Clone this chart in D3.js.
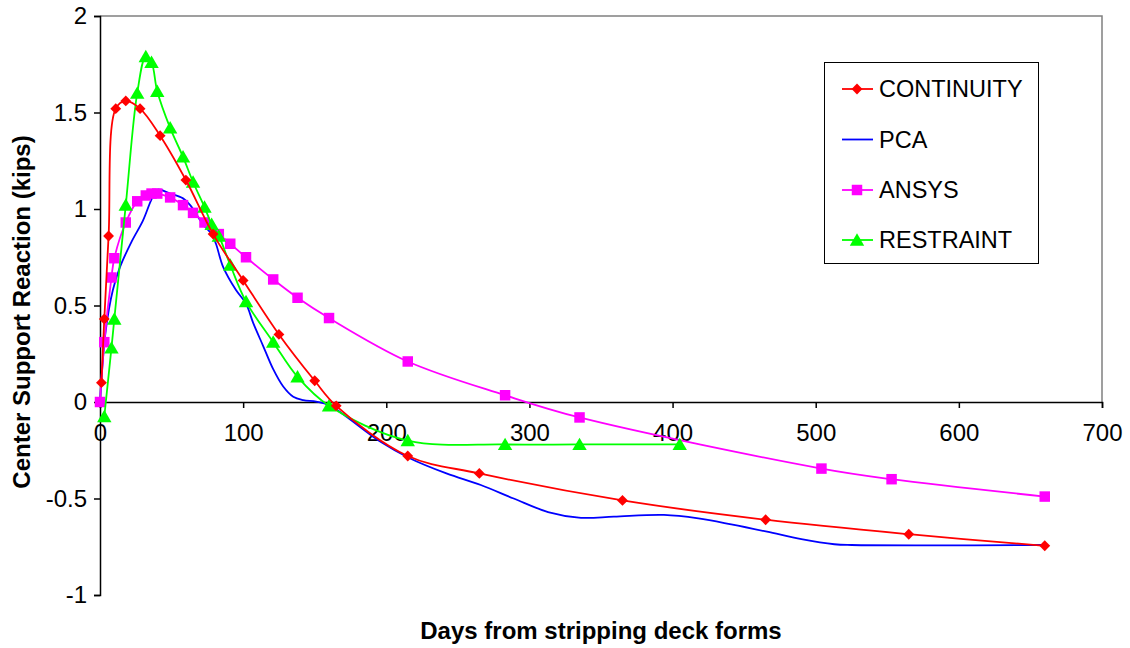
<!DOCTYPE html>
<html>
<head>
<meta charset="utf-8">
<script src="https://cdn.jsdelivr.net/npm/d3@7"></script>
<style>
  body { margin: 0; background: #fff; }
  text { font-family: "Liberation Sans", Arial, sans-serif; }
</style>
</head>
<body>
<div id="chart"></div>
<script>
var xTicks = [0, 100, 200, 300, 400, 500, 600, 700];
var yTicks = [-1, -0.5, 0, 0.5, 1, 1.5, 2];

var contDays = [1, 3, 6, 11, 18, 28, 42, 60, 79, 100, 125, 150, 165, 215, 265, 365, 465, 565, 660];
var contVals = [0.10, 0.43, 0.86, 1.52, 1.56, 1.52, 1.38, 1.15, 0.87, 0.63, 0.35, 0.11, -0.02, -0.28, -0.37, -0.51, -0.61, -0.685, -0.745];

var pcaDays = [0, 4, 9, 14, 22, 30, 36, 40, 49, 58, 63, 72, 78, 81, 86, 95, 102, 107, 114, 121, 128, 135, 142, 151, 160, 196, 216, 242, 266, 289, 313, 336, 359, 394, 418, 441, 466, 490, 513, 525, 661];
var pcaVals = [0, 0.37, 0.58, 0.70, 0.83, 0.94, 1.05, 1.10, 1.08, 1.055, 1.02, 0.92, 0.87, 0.82, 0.70, 0.58, 0.51, 0.41, 0.29, 0.17, 0.08, 0.027, 0.01, 0.002, -0.016, -0.206, -0.29, -0.37, -0.43, -0.50, -0.57, -0.60, -0.594, -0.585, -0.603, -0.634, -0.672, -0.711, -0.737, -0.741, -0.741];

var ansysDays = [0, 3, 8, 10, 18, 26, 32, 36, 40, 49, 58, 65, 73, 83, 91, 102, 121, 138, 160, 215, 283, 335, 504, 553, 660];
var ansysVals = [0, 0.31, 0.645, 0.745, 0.93, 1.04, 1.07, 1.08, 1.08, 1.06, 1.02, 0.98, 0.93, 0.87, 0.82, 0.75, 0.635, 0.54, 0.435, 0.21, 0.035, -0.08, -0.345, -0.40, -0.49];

var restDays = [3, 8, 10, 18, 26, 32, 36, 40, 49, 58, 65, 73, 78, 83, 91, 102, 121, 138, 160, 215, 283, 335, 405];
var restVals = [-0.075, 0.28, 0.43, 1.02, 1.60, 1.79, 1.76, 1.61, 1.42, 1.27, 1.14, 1.01, 0.92, 0.86, 0.71, 0.52, 0.31, 0.13, -0.02, -0.20, -0.22, -0.22, -0.22];

var seriesNames = ["CONTINUITY", "PCA", "ANSYS", "RESTRAINT"];
var seriesColors = ["#ff0000", "#0000ff", "#ff00ff", "#00ff00"];
var seriesMarkers = ["diamond", "none", "square", "triangle"];

var width = 1130, height = 648;
var plotLeft = 100, plotRight = 1102, plotTop = 16, plotBottom = 595;

var svg = d3.select("#chart").append("svg")
    .attr("width", width)
    .attr("height", height);

var x = d3.scaleLinear().domain([0, 700]).range([plotLeft, plotRight]);
var y = d3.scaleLinear().domain([-1, 2]).range([plotBottom, plotTop]);

// plain hyphen minus like the excel original
function fmt(d) { return String(d); }

// plot area border (top + right), gray like excel
svg.append("path")
    .attr("d", "M" + plotLeft + "," + plotTop + "H" + plotRight + "V" + y(0))
    .attr("fill", "none")
    .attr("stroke", "#808080")
    .attr("stroke-width", 1.5);

// y axis
var yAxis = svg.append("g")
    .attr("transform", "translate(" + plotLeft + ",0)")
    .call(d3.axisLeft(y).tickValues(yTicks).tickSize(6).tickPadding(7).tickFormat(fmt));
yAxis.select(".domain").attr("stroke", "#000").attr("stroke-width", 1.5);
yAxis.selectAll(".tick line").attr("stroke", "#000").attr("stroke-width", 1.5);
yAxis.selectAll("text").attr("font-size", 24).attr("fill", "#000")
    .attr("font-family", "Liberation Sans, Arial, sans-serif");

// x axis at y = 0
var xAxis = svg.append("g")
    .attr("transform", "translate(0," + y(0) + ")")
    .call(d3.axisBottom(x).tickValues(xTicks).tickSize(6).tickPadding(16).tickFormat(fmt));
xAxis.select(".domain").attr("stroke", "#000").attr("stroke-width", 1.5);
xAxis.selectAll(".tick line").attr("stroke", "#000").attr("stroke-width", 1.5);
xAxis.selectAll("text").attr("font-size", 24).attr("fill", "#000")
    .attr("font-family", "Liberation Sans, Arial, sans-serif");

// axis titles
svg.append("text")
    .attr("x", 601).attr("y", 639)
    .attr("text-anchor", "middle")
    .attr("font-size", 24).attr("font-weight", "bold")
    .text("Days from stripping deck forms");

svg.append("text")
    .attr("transform", "translate(30,312) rotate(-90)")
    .attr("text-anchor", "middle")
    .attr("font-size", 24).attr("font-weight", "bold")
    .text("Center Support Reaction (kips)");

function pairs(days, vals) {
    return days.map(function(d, i) { return [d, vals[i]]; });
}

var allSeries = [
    pairs(contDays, contVals),
    pairs(pcaDays, pcaVals),
    pairs(ansysDays, ansysVals),
    pairs(restDays, restVals)
];

var line = d3.line()
    .x(function(d) { return x(d[0]); })
    .y(function(d) { return y(d[1]); })
    .curve(d3.curveCatmullRom.alpha(0.5));

function markerPath(type) {
    if (type == "diamond") return d3.symbol().type(d3.symbolDiamond2).size(75)();
    if (type == "square") return d3.symbol().type(d3.symbolSquare).size(110)();
    if (type == "triangle") return d3.symbol().type(d3.symbolTriangle).size(90)();
    return null;
}

// draw order: PCA, ANSYS, RESTRAINT, CONTINUITY
[1, 2, 3, 0].forEach(function(i) {
    var g = svg.append("g");
    g.append("path")
        .datum(allSeries[i])
        .attr("d", line)
        .attr("fill", "none")
        .attr("stroke", seriesColors[i])
        .attr("stroke-width", 1.8);
    if (seriesMarkers[i] != "none") {
        var mp = markerPath(seriesMarkers[i]);
        g.selectAll(".m")
            .data(allSeries[i])
            .enter().append("path")
            .attr("class", "m")
            .attr("d", mp)
            .attr("transform", function(d) {
                var yy = y(d[1]);
                if (seriesMarkers[i] == "triangle") yy = yy + 1.5;
                return "translate(" + x(d[0]) + "," + yy + ")";
            })
            .attr("fill", seriesColors[i]);
    }
});

// legend
var legend = svg.append("g");
legend.append("rect")
    .attr("x", 824.5).attr("y", 62.5)
    .attr("width", 214).attr("height", 201)
    .attr("fill", "#fff")
    .attr("stroke", "#000")
    .attr("stroke-width", 1);

var legendY = [89, 139.5, 190, 240];
seriesNames.forEach(function(name, i) {
    var ly = legendY[i];
    legend.append("line")
        .attr("x1", 842).attr("x2", 873)
        .attr("y1", ly).attr("y2", ly)
        .attr("stroke", seriesColors[i])
        .attr("stroke-width", 1.8);
    if (seriesMarkers[i] != "none") {
        legend.append("path")
            .attr("d", markerPath(seriesMarkers[i]))
            .attr("transform", "translate(857," + (seriesMarkers[i] == "triangle" ? ly + 1.5 : ly) + ")")
            .attr("fill", seriesColors[i]);
    }
    legend.append("text")
        .attr("x", 879).attr("y", ly)
        .attr("dy", "0.36em")
        .attr("font-size", 23.5)
        .text(name);
});
</script>
</body>
</html>
